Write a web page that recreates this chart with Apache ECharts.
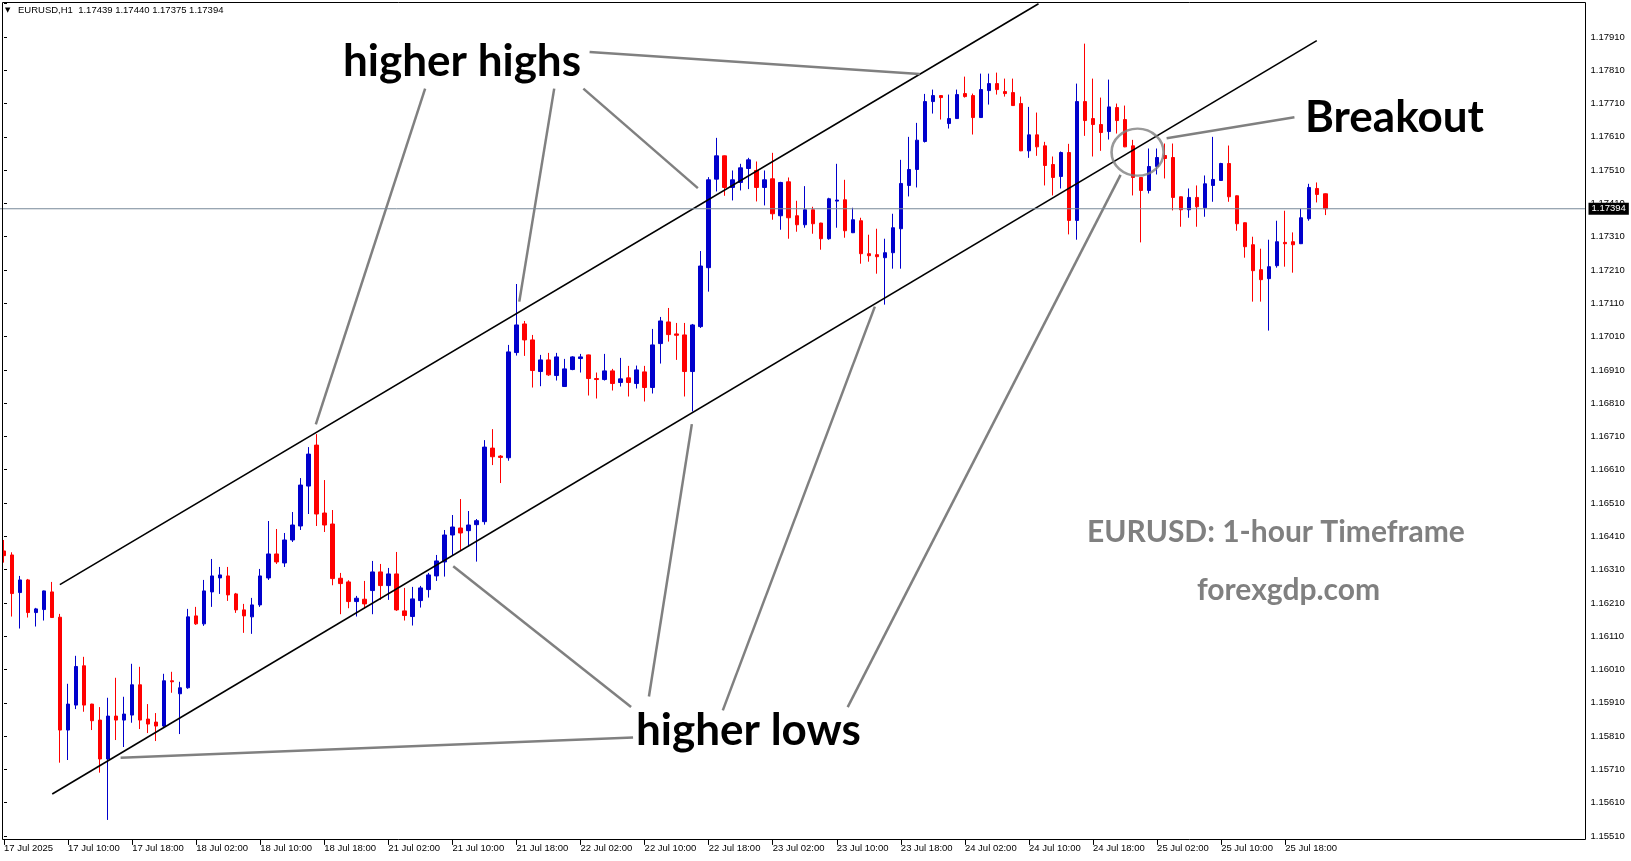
<!DOCTYPE html>
<html><head><meta charset="utf-8">
<script src="https://cdn.jsdelivr.net/npm/echarts@6/dist/echarts.min.js"></script>
<style>html,body{margin:0;padding:0;background:#fff}#c{width:1631px;height:861px}</style>
</head><body><div id="c"></div>
<script>
// ---- data ----
const tickLabels = ['17 Jul 2025','17 Jul 10:00','17 Jul 18:00','18 Jul 02:00','18 Jul 10:00','18 Jul 18:00','21 Jul 02:00','21 Jul 10:00','21 Jul 18:00','22 Jul 02:00','22 Jul 10:00','22 Jul 18:00','23 Jul 02:00','23 Jul 10:00','23 Jul 18:00','24 Jul 02:00','24 Jul 10:00','24 Jul 18:00','25 Jul 02:00','25 Jul 10:00','25 Jul 18:00'];
const openP = [1.16366,1.16354,1.16241,1.16279,1.16181,1.16190,1.16243,1.16167,1.15828,1.15903,1.16021,1.15906,1.15858,1.15741,1.15870,1.15858,1.15873,1.15964,1.15861,1.15852,1.15840,1.15976,1.15937,1.15955,1.16171,1.16147,1.16243,1.16285,1.16291,1.16237,1.16189,1.16168,1.16204,1.16285,1.16357,1.16330,1.16399,1.16441,1.16561,1.16684,1.16480,1.16447,1.16284,1.16273,1.16214,1.16221,1.16247,1.16303,1.16262,1.16297,1.16186,1.16169,1.16217,1.16250,1.16291,1.16333,1.16414,1.16435,1.16427,1.16445,1.16454,1.16675,1.16651,1.16646,1.16962,1.17048,1.17000,1.16905,1.16940,1.16893,1.16860,1.16911,1.16944,1.16955,1.16884,1.16881,1.16907,1.16872,1.16886,1.16869,1.16904,1.16857,1.16989,1.17054,1.17018,1.17015,1.16905,1.17040,1.17217,1.17483,1.17553,1.17458,1.17473,1.17515,1.17509,1.17458,1.17484,1.17373,1.17475,1.17373,1.17346,1.17391,1.17351,1.17304,1.17417,1.17421,1.17322,1.17358,1.17259,1.17256,1.17247,1.17262,1.17334,1.17464,1.17512,1.17596,1.17716,1.17734,1.17650,1.17665,1.17740,1.17734,1.17668,1.17749,1.17770,1.17746,1.17743,1.17710,1.17568,1.17616,1.17583,1.17527,1.17491,1.17563,1.17359,1.17716,1.17665,1.17647,1.17626,1.17698,1.17662,1.17583,1.17488,1.17449,1.17521,1.17554,1.17548,1.17430,1.17391,1.17428,1.17397,1.17464,1.17479,1.17530,1.17433,1.17352,1.17286,1.17211,1.17184,1.17223,1.17293,1.17295,1.17289,1.17364,1.17455,1.17439];
const highP = [1.16399,1.16362,1.16291,1.16282,1.16195,1.16247,1.16273,1.16177,1.15967,1.16051,1.16048,1.15907,1.15897,1.15925,1.15985,1.15928,1.16027,1.16018,1.15906,1.15879,1.15997,1.16003,1.15973,1.16192,1.16198,1.16279,1.16342,1.16318,1.16318,1.16240,1.16207,1.16225,1.16312,1.16456,1.16432,1.16420,1.16483,1.16585,1.16678,1.16717,1.16579,1.16489,1.16300,1.16278,1.16231,1.16276,1.16336,1.16327,1.16315,1.16363,1.16255,1.16258,1.16261,1.16300,1.16354,1.16429,1.16474,1.16522,1.16486,1.16462,1.16699,1.16732,1.16654,1.16985,1.17168,1.17057,1.17015,1.16955,1.16961,1.16961,1.16943,1.16951,1.16958,1.16956,1.16902,1.16958,1.16913,1.16946,1.16922,1.16923,1.16922,1.17033,1.17069,1.17096,1.17051,1.17051,1.17048,1.17267,1.17489,1.17607,1.17554,1.17509,1.17529,1.17547,1.17536,1.17509,1.17562,1.17475,1.17488,1.17418,1.17462,1.17400,1.17352,1.17427,1.17529,1.17481,1.17397,1.17367,1.17316,1.17334,1.17304,1.17379,1.17541,1.17610,1.17652,1.17739,1.17752,1.17735,1.17737,1.17752,1.17791,1.17740,1.17800,1.17800,1.17803,1.17785,1.17785,1.17731,1.17700,1.17683,1.17595,1.17551,1.17566,1.17589,1.17770,1.17890,1.17785,1.17728,1.17782,1.17710,1.17704,1.17601,1.17489,1.17575,1.17575,1.17590,1.17590,1.17431,1.17455,1.17464,1.17494,1.17610,1.17532,1.17584,1.17434,1.17353,1.17310,1.17274,1.17301,1.17358,1.17388,1.17323,1.17394,1.17469,1.17473,1.17440];
const lowP = [1.16331,1.16169,1.16133,1.16166,1.16139,1.16157,1.16165,1.15730,1.15738,1.15891,1.15883,1.15828,1.15700,1.15558,1.15798,1.15777,1.15850,1.15831,1.15819,1.15795,1.15837,1.15940,1.15816,1.15952,1.16144,1.16141,1.16198,1.16237,1.16216,1.16180,1.16120,1.16117,1.16198,1.16279,1.16327,1.16318,1.16393,1.16429,1.16477,1.16441,1.16423,1.16263,1.16176,1.16194,1.16169,1.16194,1.16176,1.16219,1.16219,1.16186,1.16157,1.16142,1.16196,1.16226,1.16276,1.16289,1.16354,1.16369,1.16379,1.16334,1.16445,1.16624,1.16570,1.16637,1.16953,1.16952,1.16857,1.16861,1.16892,1.16878,1.16859,1.16909,1.16902,1.16833,1.16824,1.16878,1.16848,1.16860,1.16830,1.16854,1.16815,1.16839,1.16929,1.16995,1.16940,1.16830,1.16785,1.17036,1.17145,1.17446,1.17433,1.17419,1.17449,1.17453,1.17416,1.17404,1.17361,1.17331,1.17304,1.17325,1.17337,1.17319,1.17271,1.17301,1.17337,1.17307,1.17321,1.17229,1.17235,1.17199,1.17106,1.17214,1.17214,1.17431,1.17458,1.17593,1.17680,1.17662,1.17635,1.17664,1.17728,1.17617,1.17667,1.17707,1.17737,1.17731,1.17703,1.17567,1.17547,1.17553,1.17464,1.17434,1.17455,1.17317,1.17301,1.17613,1.17551,1.17568,1.17602,1.17620,1.17579,1.17434,1.17293,1.17440,1.17497,1.17485,1.17389,1.17340,1.17367,1.17340,1.17370,1.17415,1.17478,1.17415,1.17328,1.17247,1.17115,1.17115,1.17028,1.17217,1.17220,1.17202,1.17288,1.17358,1.17413,1.17375];
const closeP = [1.16352,1.16238,1.16279,1.16181,1.16192,1.16246,1.16166,1.15828,1.15906,1.16019,1.15903,1.15856,1.15741,1.15870,1.15858,1.15876,1.15964,1.15858,1.15846,1.15840,1.15976,1.15973,1.15955,1.16168,1.16147,1.16246,1.16291,1.16294,1.16234,1.16189,1.16171,1.16204,1.16291,1.16357,1.16333,1.16399,1.16444,1.16564,1.16657,1.16477,1.16444,1.16283,1.16268,1.16214,1.16224,1.16207,1.16303,1.16262,1.16297,1.16189,1.16172,1.16222,1.16255,1.16294,1.16336,1.16414,1.16438,1.16420,1.16444,1.16457,1.16678,1.16649,1.16647,1.16964,1.17045,1.17000,1.16908,1.16940,1.16895,1.16949,1.16913,1.16949,1.16949,1.16884,1.16881,1.16907,1.16869,1.16883,1.16872,1.16910,1.16857,1.16985,1.17057,1.17016,1.17014,1.16905,1.17045,1.17222,1.17481,1.17553,1.17458,1.17481,1.17517,1.17541,1.17458,1.17481,1.17379,1.17473,1.17367,1.17346,1.17391,1.17349,1.17304,1.17424,1.17420,1.17328,1.17361,1.17259,1.17253,1.17250,1.17262,1.17337,1.17470,1.17512,1.17600,1.17716,1.17734,1.17728,1.17665,1.17737,1.17731,1.17668,1.17752,1.17770,1.17752,1.17740,1.17704,1.17568,1.17616,1.17580,1.17524,1.17488,1.17563,1.17359,1.17716,1.17659,1.17647,1.17623,1.17700,1.17659,1.17580,1.17488,1.17449,1.17521,1.17548,1.17545,1.17428,1.17391,1.17428,1.17400,1.17469,1.17482,1.17530,1.17430,1.17349,1.17280,1.17208,1.17181,1.17220,1.17295,1.17289,1.17286,1.17367,1.17458,1.17437,1.17394];
const lastPrice = 1.17394;
const headerText = 'EURUSD,H1  1.17439 1.17440 1.17375 1.17394';
const yMin = 1.15510, yMax = 1.18010, yStep = 0.001;
const totalSlots = 198;
// trend lines: [barIndex, price]
const upperChannel = [[6.975, 1.16265], [129.19, 1.18010]];
const lowerChannel = [[6.025, 1.15636], [163.94, 1.17899]];
const pointerLines = [
  [[52.59, 1.17755], [38.94, 1.16746]],
  [[68.71, 1.17755], [64.35, 1.17115]],
  [[72.35, 1.17755], [86.65, 1.17456]],
  [[73.13, 1.17865], [114.35, 1.17799]],
  [[161.15, 1.17669], [145.19, 1.17606]],
  [[78.56, 1.15806], [14.56, 1.15745]],
  [[80.54, 1.15929], [85.9, 1.16747]],
  [[78.31, 1.15897], [56.1, 1.16320]],
  [[89.76, 1.15887], [108.75, 1.17100]],
  [[105.36, 1.15897], [139.44, 1.17496]]
];
const breakoutCircle = [141.56, 1.17564];

// ---- chart ----
const FONT = 'Liberation Sans, Arial, sans-serif';
const cats = [];
for (let i = 0; i < totalSlots; i++) cats.push(String(i));
const candles = openP.map((o, i) => [o, closeP[i], lowP[i], highP[i]]);
const showTick = (idx) => idx % 8 === 0 && idx / 8 < tickLabels.length;

const series = [{
  type: 'candlestick',
  xAxisIndex: 0, yAxisIndex: 0,
  data: candles,
  barWidth: 4,
  itemStyle: { color: '#0000cc', color0: '#ff0000', borderColor: '#0000cc', borderColor0: '#ff0000', borderWidth: 1 }
}];
// current price (bid) line with price box at its right end
series.push({
  type: 'line', xAxisIndex: 1, yAxisIndex: 0, silent: true, symbol: 'none', z: 5,
  data: [[-0.5, lastPrice], [totalSlots - 0.5, lastPrice]],
  lineStyle: { color: '#778899', width: 1 },
  endLabel: { show: true, formatter: lastPrice.toFixed(5), color: '#fff', backgroundColor: '#000', fontSize: 9.5, fontFamily: FONT, padding: [1, 3, 1, 3], distance: 3 }
});
[upperChannel, lowerChannel].forEach(l => series.push({
  type: 'line', xAxisIndex: 1, yAxisIndex: 0, data: l, symbol: 'none', silent: true,
  lineStyle: { color: '#000', width: 1.6 }, z: 3
}));
pointerLines.forEach(l => series.push({
  type: 'line', xAxisIndex: 1, yAxisIndex: 0, data: l, symbol: 'none', silent: true,
  lineStyle: { color: '#808080', width: 2.5 }, z: 4
}));
series.push({
  type: 'scatter', xAxisIndex: 1, yAxisIndex: 0, data: [breakoutCircle], symbol: 'circle', symbolSize: [52, 47], silent: true,
  itemStyle: { color: 'rgba(0,0,0,0)', borderColor: '#808080', borderWidth: 2.5 }, z: 4
});

function txt(text, x, y, size, color, weight, family) {
  return { type: 'text', x: x, y: y, z: 100, silent: true,
    style: { text: text, fill: color, font: (weight || 'normal') + ' ' + size + 'px ' + (family || FONT),
      textAlign: 'left', textVerticalAlign: 'middle', align: 'left', verticalAlign: 'middle' } };
}
const BIG = 'Lato, "Open Sans", sans-serif';

const chart = echarts.init(document.getElementById('c'));
chart.setOption({
  animation: false,
  backgroundColor: '#fff',
  grid: { left: -0.5, top: 3.71, width: 1586, height: 832.2, containLabel: false, show: false },
  xAxis: [{
    type: 'category', data: cats, boundaryGap: true, position: 'bottom', offset: 4,
    axisLine: { show: false },
    axisTick: { show: true, alignWithLabel: true, interval: (i) => showTick(i), length: 5, lineStyle: { color: '#000' } },
    axisLabel: { show: true, interval: (i) => showTick(i), formatter: (v, i) => tickLabels[i / 8] || '', align: 'left', margin: 3, fontSize: 9.5, fontFamily: FONT, color: '#000' },
    splitLine: { show: false }
  }, {
    type: 'value', min: -0.5, max: totalSlots - 0.5, show: false
  }],
  yAxis: [{
    type: 'value', position: 'right', min: yMin, max: yMax, interval: yStep, scale: true,
    axisLine: { show: false },
    axisTick: { show: true, length: 3, lineStyle: { color: '#000' } },
    axisLabel: { margin: 5, fontSize: 9.5, fontFamily: FONT, color: '#000', formatter: (v) => v > 1.1796 ? '' : v.toFixed(5) },
    splitLine: { show: false }
  }],
  graphic: [
    { type: 'rect', silent: true, z: 50, shape: { x: 2.5, y: 2.5, width: 1583, height: 837 }, style: { fill: 'none', stroke: '#000', lineWidth: 1 } },
    txt('\u25BC', 5, 10, 7, '#000', 'normal', 'DejaVu Sans'),
    txt(headerText, 18, 10.5, 9.5, '#000'),
    txt('higher highs', 343, 62, 44, '#000', 'bold', BIG),
    txt('higher lows', 636, 731, 44, '#000', 'bold', BIG),
    txt('Breakout', 1305, 118, 44, '#000', 'bold', BIG),
    txt('EURUSD: 1-hour Timeframe', 1087, 532, 30, '#808080', 'bold', BIG),
    txt('forexgdp.com', 1197, 590, 30, '#808080', 'bold', BIG)
  ],
  series: series
});
</script></body></html>
